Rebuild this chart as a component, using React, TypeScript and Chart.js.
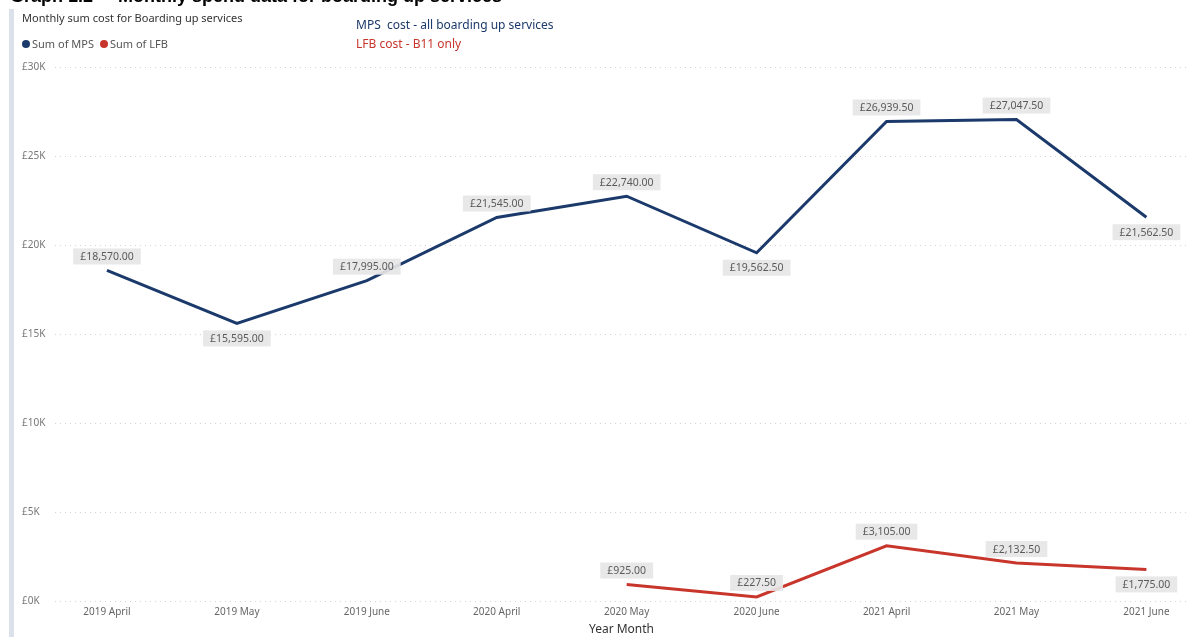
import React, { useEffect, useRef } from "react";
import { Chart, registerables } from "chart.js";

Chart.register(...registerables);

const categories = [
  "2019 April", "2019 May", "2019 June", "2020 April", "2020 May",
  "2020 June", "2021 April", "2021 May", "2021 June",
];
const mpsValues: (number | null)[] = [18570, 15595, 17995, 21545, 22740, 19562.5, 26939.5, 27047.5, 21562.5];
const lfbValues: (number | null)[] = [null, null, null, null, 925, 227.5, 3105, 2132.5, 1775];
const mpsLabelSide = ["up", "down", "up", "up", "up", "down", "up", "up", "down"];
const lfbLabelSide = ["up", "up", "up", "up", "up", "up", "up", "up", "down"];
const yTicks = [0, 5000, 10000, 15000, 20000, 25000, 30000];

const MPS_COLOR = "#1b3a6b";
const LFB_COLOR = "#c8352b";
const FONT = "'Noto Sans', 'Open Sans', sans-serif";

const fmt = (v: number) =>
  "£" + v.toLocaleString("en-GB", { minimumFractionDigits: 2, maximumFractionDigits: 2 });

const labelPlugin = {
  id: "pointLabels",
  afterDatasetsDraw(chart: any) {
    const ctx = chart.ctx;
    ctx.save();
    ctx.font = `10.5px ${FONT}`;
    ctx.textAlign = "center";
    ctx.textBaseline = "middle";
    chart.data.datasets.forEach((ds: any, di: number) => {
      const meta = chart.getDatasetMeta(di);
      const sides = di === 0 ? mpsLabelSide : lfbLabelSide;
      meta.data.forEach((pt: any, i: number) => {
        const raw = ds.data[i];
        if (!raw || raw.y == null) return;
        const text = fmt(raw.y);
        const w = ctx.measureText(text).width + 14;
        const h = 16;
        let cx = pt.x;
        if (cx + w / 2 > chart.width - 2) cx = chart.width - 2 - w / 2;
        const cy = sides[i] === "up" ? pt.y - 14 : pt.y + 15;
        ctx.fillStyle = "rgba(230,230,230,0.92)";
        ctx.fillRect(cx - w / 2, cy - h / 2, w, h);
        ctx.fillStyle = "#5a5a5a";
        ctx.fillText(text, cx, cy + 0.5);
      });
    });
    ctx.restore();
  },
};

function App() {
  const ref = useRef<HTMLCanvasElement>(null);
  useEffect(() => {
    if (!ref.current) return;
    const chart = new Chart(ref.current, {
      type: "line",
      data: {
        datasets: [
          {
            label: "Sum of MPS",
            data: mpsValues.map((v, i) => ({ x: i, y: v })),
            borderColor: MPS_COLOR,
            backgroundColor: MPS_COLOR,
            borderWidth: 3,
            pointRadius: 0,
            tension: 0,
          },
          {
            label: "Sum of LFB",
            data: lfbValues.map((v, i) => ({ x: i, y: v })),
            borderColor: LFB_COLOR,
            backgroundColor: LFB_COLOR,
            borderWidth: 3,
            pointRadius: 0,
            tension: 0,
            spanGaps: false,
          },
        ],
      },
      options: {
        animation: false,
        responsive: false,
        maintainAspectRatio: false,
        layout: { padding: { left: 22, top: 67, right: 2, bottom: 0 } },
        plugins: {
          legend: { display: false },
          tooltip: { enabled: false },
        },
        scales: {
          x: {
            type: "linear",
            min: -0.4,
            max: 8.32,
            grid: { display: false, drawTicks: false },
            border: { display: false },
            afterBuildTicks: (scale: any) => {
              scale.ticks = categories.map((_, i) => ({ value: i }));
            },
            afterFit: (scale: any) => {
              scale.height = 36;
            },
            ticks: {
              autoSkip: false,
              maxRotation: 0,
              padding: 5,
              color: "#666",
              font: { family: FONT, size: 10 },
              callback: (v: any) => categories[v as number] ?? "",
            },
            title: {
              display: true,
              text: "Year Month",
              color: "#333",
              padding: { top: 0, bottom: 0 },
              font: { family: FONT, size: 12 },
            },
          },
          y: {
            min: 0,
            max: 30000,
            afterBuildTicks: (scale: any) => {
              scale.ticks = yTicks.map((v) => ({ value: v }));
            },
            afterFit: (scale: any) => {
              scale.width = 33;
            },
            grid: {
              color: "#d4d4d4",
              lineWidth: 1,
              drawTicks: false,
            },
            border: { display: false, dash: [1, 4] },
            ticks: {
              crossAlign: "far",
              padding: 0,
              color: "#777",
              font: { family: FONT, size: 10 },
              callback: (v: any) => "£" + Number(v) / 1000 + "K",
            },
          },
        },
      } as any,
      plugins: [labelPlugin],
    });
    return () => chart.destroy();
  }, []);

  return (
    <div style={{ position: "fixed", left: 0, top: 0, width: 1190, height: 637, background: "#fff", overflow: "hidden" }}>
      <div style={{ position: "absolute", left: 9, top: 9, width: 5, height: 628, background: "#dbe1ea" }} />
      <canvas ref={ref} width={1190} height={637} style={{ position: "absolute", left: 0, top: 0, width: 1190, height: 637 }} />
      <div style={{ position: "absolute", left: 10, top: -14, font: `bold 18px 'Liberation Sans', sans-serif`, lineHeight: "21px", color: "#000", whiteSpace: "pre" }}>
        Graph 1.2 –  Monthly spend data for boarding up services
      </div>
      <div style={{ position: "absolute", left: 22, top: 10, font: `11px ${FONT}`, color: "#333", whiteSpace: "nowrap" }}>
        Monthly sum cost for Boarding up services
      </div>
      <div style={{ position: "absolute", left: 22, top: 36, font: `11px ${FONT}`, color: "#555", whiteSpace: "nowrap", display: "flex", alignItems: "center" }}>
        <span style={{ display: "inline-block", width: 8, height: 8, borderRadius: 4, background: MPS_COLOR, marginRight: 2 }} />
        <span>Sum of MPS</span>
        <span style={{ display: "inline-block", width: 8, height: 8, borderRadius: 4, background: LFB_COLOR, marginLeft: 6, marginRight: 2 }} />
        <span>Sum of LFB</span>
      </div>
      <div style={{ position: "absolute", left: 356, top: 16, font: `12px ${FONT}`, color: MPS_COLOR, whiteSpace: "pre" }}>
        MPS  cost - all boarding up services
      </div>
      <div style={{ position: "absolute", left: 356, top: 35, font: `12px ${FONT}`, color: LFB_COLOR, whiteSpace: "pre" }}>
        LFB cost - B11 only
      </div>
    </div>
  );
}

export default App;
